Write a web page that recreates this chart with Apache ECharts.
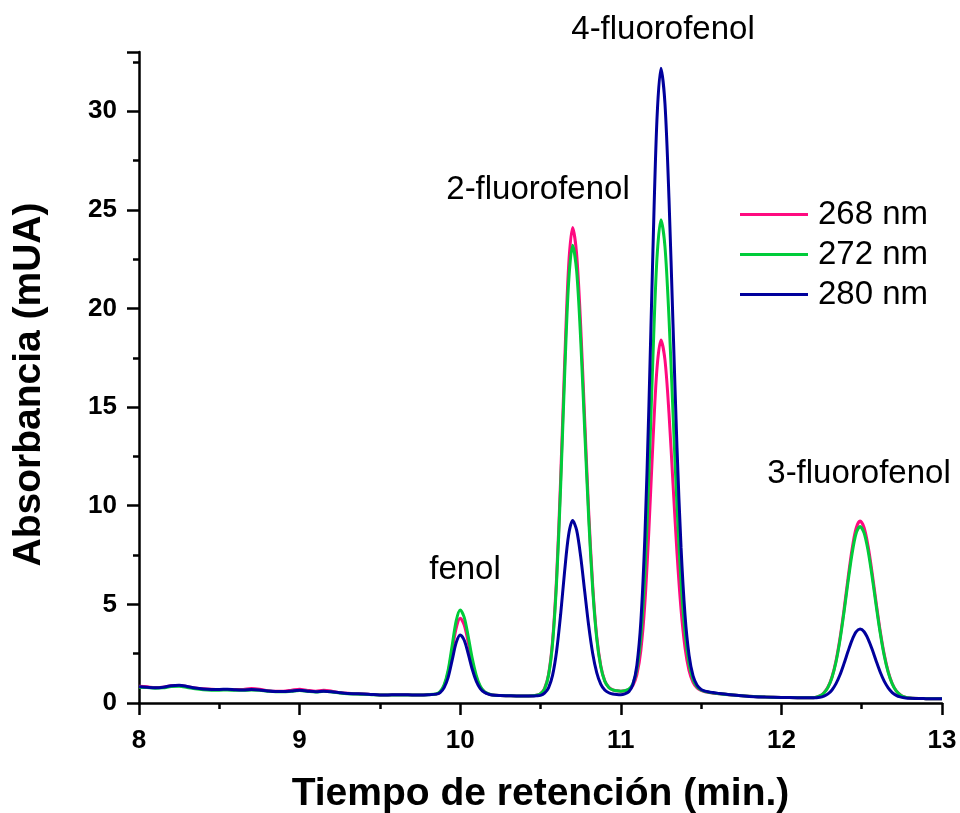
<!DOCTYPE html>
<html>
<head>
<meta charset="utf-8">
<script src="https://cdn.jsdelivr.net/npm/echarts@6/dist/echarts.min.js"></script>
<style>
  html, body { margin: 0; padding: 0; background: #fff; }
  #chart { width: 960px; height: 813px; }
</style>
</head>
<body>
<div id="chart"></div>
<script>
// tiempo de retención (min)
const retentionTime = [
  8, 8.05, 8.1, 8.15, 8.2, 8.25, 8.3, 8.35, 8.4, 8.45, 8.5, 8.55, 8.6, 8.65, 8.7, 8.75, 8.8, 8.85, 8.9, 8.95,
  9, 9.05, 9.1, 9.15, 9.2, 9.25, 9.3, 9.35, 9.4, 9.45, 9.5, 9.55, 9.6, 9.65, 9.7, 9.75, 9.8,
  9.85, 9.875, 9.9, 9.925, 9.95, 9.975, 10, 10.025, 10.05, 10.075, 10.1, 10.125, 10.15, 10.175, 10.2,
  10.25, 10.3, 10.35, 10.4, 10.45,
  10.475, 10.5, 10.525, 10.55, 10.575, 10.6, 10.625, 10.65, 10.675, 10.7,
  10.725, 10.75, 10.775, 10.8, 10.825, 10.85, 10.875, 10.9, 10.925, 10.95, 10.975,
  11, 11.025, 11.05, 11.075, 11.1, 11.125, 11.15, 11.175, 11.2, 11.225, 11.25,
  11.275, 11.3, 11.325, 11.35, 11.375, 11.4, 11.425, 11.45, 11.475, 11.5, 11.525, 11.55, 11.575, 11.6,
  11.7, 11.8, 11.9, 12, 12.1, 12.2,
  12.24, 12.265, 12.29, 12.315, 12.34, 12.365, 12.39, 12.415, 12.44, 12.465, 12.49,
  12.515, 12.54, 12.565, 12.59, 12.615, 12.64, 12.665, 12.69, 12.715, 12.74, 12.765,
  12.8, 12.9, 13
];

// absorbancia (mUA) a 268 nm
const abs268 = [
  0.85, 0.82, 0.78, 0.8, 0.87, 0.89, 0.83, 0.76, 0.72, 0.7, 0.69, 0.69, 0.68, 0.69, 0.73, 0.7, 0.63, 0.59, 0.6, 0.65,
  0.7, 0.64, 0.6, 0.64, 0.6, 0.53, 0.49, 0.47, 0.46, 0.43, 0.41, 0.41, 0.42, 0.42, 0.41, 0.41, 0.43,
  0.45, 0.56, 0.87, 1.55, 2.67, 3.80, 4.30, 3.95, 3.08, 2.08, 1.30, 0.81, 0.57, 0.46, 0.41,
  0.38, 0.37, 0.36, 0.36, 0.37,
  0.39, 0.47, 0.73, 1.44, 3.12, 6.33, 11.28, 17.17, 22.14, 24.10,
  22.75, 19.16, 14.40, 9.72, 5.96, 3.39, 1.90, 1.13, 0.80, 0.67, 0.62,
  0.60, 0.62, 0.68, 0.88, 1.43, 2.67, 5.07, 8.78, 13.20, 16.93, 18.40,
  17.39, 14.69, 11.12, 7.59, 4.75, 2.80, 1.64, 1.05, 0.76, 0.64, 0.57, 0.53, 0.50, 0.48,
  0.40, 0.34, 0.30, 0.28, 0.27, 0.26,
  0.36, 0.52, 0.81, 1.32, 2.14, 3.29, 4.74, 6.33, 7.80, 8.85, 9.22,
  8.88, 7.94, 6.59, 5.09, 3.66, 2.48, 1.59, 0.99, 0.62, 0.42, 0.31,
  0.25, 0.22, 0.21
];

// absorbancia (mUA) a 272 nm
const abs272 = [
  0.8, 0.78, 0.75, 0.77, 0.83, 0.85, 0.79, 0.72, 0.67, 0.65, 0.65, 0.66, 0.64, 0.64, 0.66, 0.64, 0.6, 0.57, 0.57, 0.6,
  0.63, 0.59, 0.56, 0.59, 0.56, 0.51, 0.47, 0.45, 0.44, 0.42, 0.4, 0.4, 0.41, 0.41, 0.4, 0.4, 0.42,
  0.46, 0.58, 0.92, 1.67, 2.91, 4.17, 4.72, 4.34, 3.37, 2.26, 1.40, 0.85, 0.58, 0.47, 0.41,
  0.38, 0.37, 0.36, 0.36, 0.37,
  0.39, 0.47, 0.71, 1.40, 3.01, 6.10, 10.87, 16.53, 21.31, 23.20,
  21.90, 18.45, 13.87, 9.37, 5.76, 3.28, 1.85, 1.11, 0.79, 0.66, 0.62,
  0.60, 0.62, 0.70, 0.97, 1.70, 3.37, 6.59, 11.57, 17.51, 22.52, 24.50,
  23.14, 19.52, 14.72, 9.98, 6.16, 3.54, 1.99, 1.19, 0.82, 0.66, 0.58, 0.54, 0.51, 0.48,
  0.40, 0.34, 0.30, 0.28, 0.27, 0.26,
  0.36, 0.51, 0.79, 1.29, 2.08, 3.20, 4.61, 6.15, 7.57, 8.59, 8.95,
  8.62, 7.71, 6.40, 4.94, 3.56, 2.41, 1.55, 0.97, 0.61, 0.41, 0.31,
  0.25, 0.22, 0.21
];

// absorbancia (mUA) a 280 nm
const abs280 = [
  0.83, 0.8, 0.77, 0.8, 0.88, 0.9, 0.84, 0.76, 0.71, 0.69, 0.69, 0.7, 0.67, 0.66, 0.68, 0.66, 0.61, 0.58, 0.58, 0.61,
  0.64, 0.6, 0.57, 0.6, 0.57, 0.52, 0.48, 0.47, 0.46, 0.43, 0.41, 0.41, 0.42, 0.42, 0.41, 0.41, 0.42,
  0.45, 0.53, 0.78, 1.30, 2.17, 3.06, 3.45, 3.18, 2.49, 1.71, 1.11, 0.73, 0.54, 0.45, 0.40,
  0.38, 0.37, 0.36, 0.36, 0.36,
  0.37, 0.39, 0.50, 0.77, 1.40, 2.61, 4.46, 6.66, 8.52, 9.25,
  8.76, 7.43, 5.67, 3.92, 2.51, 1.54, 0.96, 0.66, 0.52, 0.46, 0.43,
  0.42, 0.46, 0.57, 0.93, 1.91, 4.15, 8.45, 15.05, 22.92, 29.56, 32.18,
  30.38, 25.58, 19.22, 12.94, 7.90, 4.44, 2.42, 1.37, 0.90, 0.69, 0.60, 0.56, 0.53, 0.50,
  0.40, 0.33, 0.30, 0.28, 0.27, 0.26,
  0.29, 0.35, 0.46, 0.66, 0.98, 1.43, 2.00, 2.62, 3.19, 3.60, 3.75,
  3.61, 3.24, 2.72, 2.13, 1.57, 1.11, 0.77, 0.53, 0.39, 0.31, 0.27,
  0.24, 0.22, 0.21
];

const seriesNames = ['268 nm', '272 nm', '280 nm'];
const seriesColors = ['#ff0a80', '#00cc3a', '#00009c'];
const peakNames = ['fenol', '2-fluorofenol', '4-fluorofenol', '3-fluorofenol'];

const FONT = '"Liberation Sans", Arial, Helvetica, sans-serif';

const chart = echarts.init(document.getElementById('chart'), null, { renderer: 'canvas' });

// une tiempos con valores
const toPairs = (vals) => retentionTime.map((t, i) => [t, vals[i]]);

const axisCommon = {
  axisLine: { show: true, onZero: false, lineStyle: { color: '#000', width: 2.5 } },
  axisTick: { show: true, inside: false, length: 12, lineStyle: { color: '#000', width: 2.5 } },
  minorTick: { show: true, splitNumber: 2, length: 6, lineStyle: { color: '#000', width: 2.5 } },
  splitLine: { show: false },
  minorSplitLine: { show: false },
  axisLabel: { color: '#000', fontFamily: FONT, fontWeight: 'bold', fontSize: 26 },
  nameLocation: 'middle',
  nameTextStyle: { color: '#000', fontFamily: FONT, fontWeight: 'bold', fontSize: 39 }
};

const labelStyle = { fill: '#000', font: '33px ' + FONT, textAlign: 'center', textVerticalAlign: 'middle' };

const option = {
  backgroundColor: '#fff',
  animation: false,
  grid: { left: 139, right: 18, top: 52, bottom: 110, containLabel: false, outerBoundsMode: 'none' },
  xAxis: Object.assign({}, axisCommon, {
    type: 'value',
    min: 8,
    max: 13,
    interval: 1,
    name: 'Tiempo de retención (min.)',
    nameGap: 72,
    axisLabel: Object.assign({}, axisCommon.axisLabel, { margin: 25 })
  }),
  yAxis: Object.assign({}, axisCommon, {
    type: 'value',
    min: 0,
    max: 33,
    interval: 5,
    name: 'Absorbancia (mUA)',
    nameGap: 90,
    nameTextStyle: Object.assign({}, axisCommon.nameTextStyle, { padding: [0, 14, 0, 0] }),
    axisLabel: Object.assign({}, axisCommon.axisLabel, { margin: 22, showMaxLabel: false })
  }),
  legend: {
    left: 735,
    top: 193,
    orient: 'vertical',
    icon: 'rect',
    itemWidth: 68,
    itemHeight: 3,
    itemGap: 7,
    textStyle: { color: '#000', fontFamily: FONT, fontSize: 33, padding: [0, 0, 0, 5] },
    data: seriesNames
  },
  graphic: [
    { type: 'text', x: 465, y: 570, style: Object.assign({ text: peakNames[0] }, labelStyle) },
    { type: 'text', x: 538, y: 190, style: Object.assign({ text: peakNames[1] }, labelStyle) },
    { type: 'text', x: 663, y: 30, style: Object.assign({ text: peakNames[2] }, labelStyle) },
    { type: 'text', x: 859, y: 474, style: Object.assign({ text: peakNames[3] }, labelStyle) }
  ],
  series: [abs268, abs272, abs280].map((vals, i) => ({
    name: seriesNames[i],
    type: 'line',
    data: toPairs(vals),
    showSymbol: false,
    smooth: 0.3,
    lineStyle: { color: seriesColors[i], width: 3 },
    itemStyle: { color: seriesColors[i] }
  }))
};

chart.setOption(option);
</script>
</body>
</html>
